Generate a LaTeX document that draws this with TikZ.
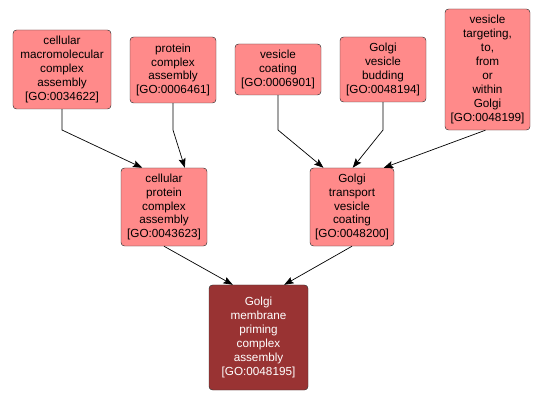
\documentclass[tikz,border=0pt]{standalone}
\usepackage{fontspec}
\setmainfont{Liberation Sans}
\usetikzlibrary{positioning, arrows.meta}
\definecolor{golight}{HTML}{FF8A8A}
\definecolor{godark}{HTML}{993333}

\begin{document}
\begin{tikzpicture}[x=0.03cm, y=-0.03cm,
  term/.style={draw=black!80, rounded corners=3pt, fill=golight, align=center,
    inner sep=1pt, font=\fontsize{10}{11.9}\selectfont},
  focus/.style={term, fill=godark, text=white},
  edge/.style={-{Stealth[length=8pt, width=6pt, inset=1.5pt]}, black, line width=0.6pt}]
\useasboundingbox (0,0) rectangle (545,402);
\coordinate (bend) at (0,130);
% top row
\node[term, minimum width=2.94cm, minimum height=2.37cm] (macro) at (62,69.5) {cellular\\macromolecular\\complex\\assembly\\{[GO:0034622]}};
\node[term, minimum width=2.58cm, minimum height=1.98cm] (protein) at (173,70) {protein\\complex\\assembly\\{[GO:0006461]}};
\node[term, minimum width=2.58cm, minimum height=1.53cm] (coating) at (278,69.5) {vesicle\\coating\\{[GO:0006901]}};
\node[term, minimum width=2.58cm, minimum height=1.95cm] (budding) at (383,69.5) {Golgi\\vesicle\\budding\\{[GO:0048194]}};
\node[term, minimum width=2.55cm, minimum height=3.63cm] (targeting) at (487.5,69.5) {vesicle\\targeting,\\to,\\from\\or\\within\\Golgi\\{[GO:0048199]}};
% middle row
\node[term, minimum width=2.58cm, minimum height=2.34cm] (cpca) at (164,207) {cellular\\protein\\complex\\assembly\\{[GO:0043623]}};
\node[term, minimum width=2.52cm, minimum height=2.34cm] (gtvc) at (352,207) {Golgi\\transport\\vesicle\\coating\\{[GO:0048200]}};
% bottom
\node[focus, minimum width=2.97cm, minimum height=3.15cm] (priming) at (258.5,337.5) {Golgi\\membrane\\priming\\complex\\assembly\\{[GO:0048195]}};
% edges
\draw[edge] (macro.south) -- (macro.south |- bend) -- (cpca.119);
\draw[edge] (protein.south) -- (protein.south |- bend) -- (cpca.62);
\draw[edge] (coating.south) -- (coating.south |- bend) -- (gtvc.126);
\draw[edge] (budding.south) -- (budding.south |- bend) -- (gtvc.89);
\draw[edge] (targeting.-92) -- (gtvc.51);
\draw[edge] (cpca.south) -- (priming.116);
\draw[edge] (gtvc.south) -- (priming.64);
\end{tikzpicture}
\end{document}
